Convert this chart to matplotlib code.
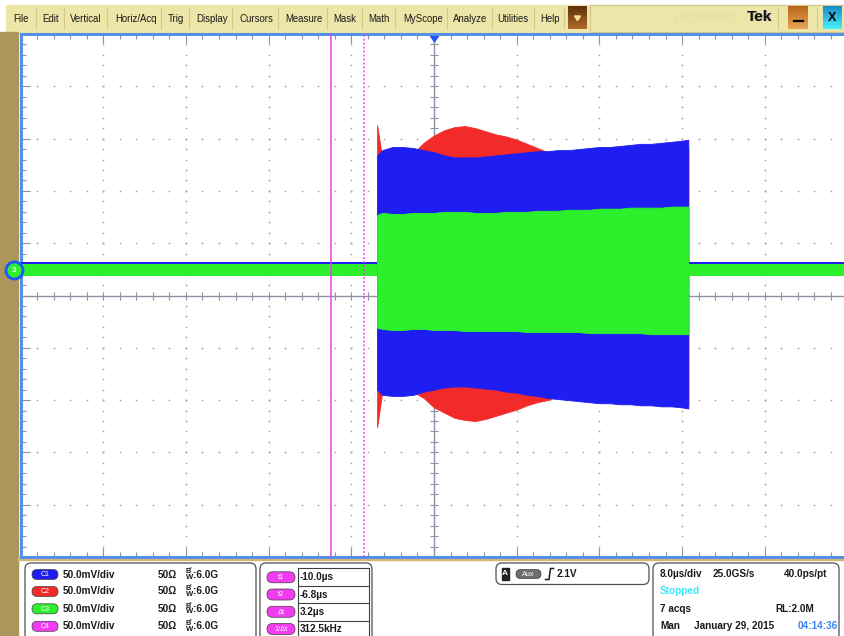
import numpy as np
import matplotlib
matplotlib.use("Agg")
import matplotlib.pyplot as plt
from matplotlib.patches import Rectangle, FancyBboxPatch, Polygon
from matplotlib.colors import LinearSegmentedColormap

plt.rcParams['font.family'] = ['Liberation Sans', 'DejaVu Sans']

# ---------------- acquisition settings ----------------
TIME_PER_DIV_US = 8.0
VOLTS_PER_DIV_MV = 50.0
N_HDIV = 10
N_VDIV = 10
CURSOR_T1_US = -10.0
CURSOR_T2_US = -6.8
SAMPLE_RATE_GSPS = 25.0
ACQ_COUNT = 7
TRIGGER_LEVEL_V = 2.1
CAPTURE_DATE = "January 29, 2015"
CAPTURE_TIME = "04:14:36"

channel_names = ["C1", "C2", "C3", "C4"]
channel_scale = ["50.0mV/div", "50.0mV/div", "50.0mV/div", "50.0mV/div"]
channel_term = ["50Ω", "50Ω", "50Ω", "50Ω"]
channel_bw = ["6.0G", "6.0G", "6.0G", "6.0G"]

menu_items = ["File", "Edit", "Vertical", "Horiz/Acq", "Trig", "Display", "Cursors",
              "Measure", "Mask", "Math", "MyScope", "Analyze", "Utilities", "Help"]

# ---------------- burst envelopes (mV) ----------------
burst_time_us = [-5.5, -5, -4, -3, -2, -1, 0, 1, 2, 3, 4, 5, 6, 7, 8, 9, 10, 11,
                 12, 13, 14, 15, 16, 17, 18, 19, 20, 21, 22, 23, 24, 24.6]
blue_top_mv = [134, 139, 142, 142, 141, 139, 137, 134, 132, 132, 132, 133, 134, 135, 136, 137,
               138, 138, 139, 139, 140, 141, 142, 142, 143, 144, 145, 145, 146, 147, 148, 149]
blue_bottom_mv = [-90, -95, -96, -96, -95, -92, -90, -88, -87, -87, -88, -89, -90, -92, -93, -95,
                  -96, -98, -99, -100, -101, -102, -103, -103, -104, -104, -105, -105, -106, -106, -107, -108]
red_top_mv = [163, 131, 134, 134, 136, 146, 153, 158, 161, 162, 160, 157, 154, 152, 149, 145,
              141, 137, 132, 131, 132, 133, 134, 134, 135, 136, 137, 137, 138, 139, 140, 141]
red_bottom_mv = [-126, -92, -93, -93, -92, -98, -107, -112, -117, -119, -120, -118, -115, -112, -109, -105,
                 -102, -100, -96, -97, -98, -99, -100, -100, -101, -101, -102, -102, -103, -103, -104, -105]
green_top_mv = [77, 79, 78, 78, 79, 79, 79, 80, 80, 80, 79, 79, 79, 80, 80, 80,
                81, 81, 81, 82, 82, 82, 83, 83, 83, 84, 84, 84, 84, 85, 85, 85]
green_bottom_mv = [-31, -32, -33, -33, -32, -32, -33, -33, -33, -34, -34, -34, -34, -34, -34, -35,
                   -35, -35, -35, -35, -35, -36, -36, -36, -36, -36, -36, -37, -37, -37, -37, -37]

# idle (no burst) levels, mV
green_idle_mv = [18.6, 30.1]
blue_idle_mv = [20.0, 32.0]

# ---------------- colours ----------------
BLUE = '#1E1EF2'
RED = '#F22A2A'
GREEN = '#2CF02C'
MAGENTA = '#F23CF2'
GRID = '#9AA2AC'
AXIS = '#8A94A2'
BORDER = '#5590EA'
MENU_BG = '#EEE6A8'
FRAME = '#AB975C'
GOLD = '#D6B672'
TEXT = '#1A1A1A'

W, H = 844, 636
fig = plt.figure(figsize=(W / 100, H / 100), dpi=100)
fig.patch.set_facecolor('white')

bg = fig.add_axes([0, 0, 1, 1], zorder=0)
bg.axis('off')


def grad(x0, y0, x1, y1, c_top, c_bot):
    cmap = LinearSegmentedColormap.from_list('g', [c_top, c_bot])
    bg.imshow(np.linspace(0, 1, 32).reshape(-1, 1), cmap=cmap, aspect='auto',
              extent=[x0, x1, y1, y0], zorder=3, interpolation='bilinear')


# menu bar
bg.add_patch(Rectangle((6, 5), W - 6, 27, color=MENU_BG, zorder=1))
bg.add_patch(Rectangle((590, 4.5), W - 590, 27, fill=False, ec='#CFC68A', lw=0.8, zorder=2))
menu_x = [13, 42, 70, 115, 168, 196, 239, 285, 333, 368, 403, 452.7, 497, 540.7]
sep_x = [35.7, 64, 107, 161, 189, 232, 278, 327, 362, 395, 446.7, 491.7, 534]
for lbl, x in zip(menu_items, menu_x):
    bg.text(x, 18.5, lbl, fontsize=6.9, color=TEXT, ha='left', va='center', zorder=4)
for x in sep_x:
    bg.plot([x, x], [8, 29], color='#D2C98E', lw=0.8, zorder=2)
for x in [564, 778, 817]:
    bg.plot([x, x], [8, 29], color='#D2C98E', lw=0.8, zorder=2)

# dropdown, minimise, close buttons
grad(568, 6, 587, 29, '#5E3210', '#B06A28')
bg.add_patch(Polygon([[574.5, 16], [580.5, 16], [577.5, 20.5]], color='#F4E3A0', zorder=4))
grad(788, 6, 808, 29, '#B8661C', '#E8A455')
bg.plot([793.5, 802.5], [21, 21], color='black', lw=1.6, zorder=4)
grad(823, 6, 842, 29, '#1B8CC8', '#48F0FA')
bg.text(832.5, 18, "X", fontsize=9, fontweight='bold', ha='center', va='center', zorder=4)
bg.text(706, 18, "DPO70604C", fontsize=8, color='#E6DE9F', ha='center', va='center', zorder=4)
bg.text(760, 17.3, "Tek", fontsize=11, fontweight='bold', color='#9A9A9A', ha='center', va='center', zorder=4)
bg.text(759.3, 16.7, "Tek", fontsize=11, fontweight='bold', color='#111111', ha='center', va='center', zorder=4)

# frame around the graticule
bg.add_patch(Rectangle((0, 32), 17.5, H - 32, color=FRAME, zorder=1))
bg.add_patch(Rectangle((17.5, 556.5), W, 3.2, color=GOLD, zorder=1))

# ---------------- readout panels ----------------
def box(x0, y0, x1, y1):
    bg.add_patch(FancyBboxPatch((x0, y0), x1 - x0, y1 - y0,
                                boxstyle="round,pad=0,rounding_size=6",
                                fc='white', ec='#505050', lw=0.9, zorder=2))


def pill(xc, yc, w, h, color, label, fs=5.0):
    bg.add_patch(FancyBboxPatch((xc - w / 2, yc - h / 2), w, h,
                                boxstyle=f"round,pad=0,rounding_size={h / 2}",
                                fc=color, ec='#404040', lw=0.5, zorder=3))
    bg.text(xc, yc + 0.3, label, fontsize=fs, color='white', ha='center', va='center', zorder=4)


box(25, 563, 256, 650)
box(260, 563, 372, 650)
box(496, 563, 649, 584.5)
box(653, 563, 839, 650)

row_y = [574.5, 591.5, 608.8, 626.3]
pill_colors = [BLUE, RED, GREEN, MAGENTA]
for i, y in enumerate(row_y):
    pill(45, y, 26, 10, pill_colors[i], channel_names[i])
    bg.text(63, y, channel_scale[i], fontsize=7.2, fontweight='bold', color=TEXT, ha='left', va='center', zorder=4)
    bg.text(158, y, channel_term[i], fontsize=7.2, fontweight='bold', color=TEXT, ha='left', va='center', zorder=4)
    bg.text(185, y - 2.8, "B", fontsize=5.2, fontweight='bold', color=TEXT, ha='left', va='center', zorder=4)
    bg.text(189.3, y - 4.5, "'", fontsize=5, fontweight='bold', color=TEXT, ha='left', va='center', zorder=4)
    bg.text(186, y + 2.8, "W", fontsize=5.5, fontweight='bold', color=TEXT, ha='left', va='center', zorder=4)
    bg.text(193, y, ":" + channel_bw[i], fontsize=7.2, fontweight='bold', color=TEXT, ha='left', va='center', zorder=4)

# cursor readouts
dt_us = CURSOR_T2_US - CURSOR_T1_US
cursor_labels = ["t1", "t2", "Δt", "1/Δt"]
cursor_values = [f"{CURSOR_T1_US:.1f}µs", f"{CURSOR_T2_US:.1f}µs", f"{dt_us:.1f}µs",
                 f"{1e3 / dt_us:.1f}kHz"]
cur_y = [577.3, 594.5, 611.8, 629]
for y in [568.3, 585.8, 603.2, 620.6]:
    bg.plot([297.5, 369], [y, y], color='#404040', lw=0.8, zorder=3)
for x in [297.5, 369]:
    bg.plot([x, x], [568.3, 640], color='#404040', lw=0.8, zorder=3)
for lbl, val, y in zip(cursor_labels, cursor_values, cur_y):
    pill(281, y, 28, 11, MAGENTA, lbl, fs=5.3)
    bg.text(300, y, val, fontsize=7.2, fontweight='bold', color=TEXT, ha='left', va='center', zorder=4)

# trigger readout
bg.add_patch(Rectangle((501.5, 567.5), 7, 12.5, color='#222222', zorder=3))
bg.text(505, 573.8, "A", fontsize=6, fontweight='bold', color='white', ha='center', va='center', zorder=4)
pill(528.5, 574, 25, 9, '#6E6E6E', "Aux", fs=5.2)
bg.plot([545.5, 549, 550.5, 553.5], [579.5, 579.5, 568.5, 568.5], color=TEXT, lw=1.1, zorder=4)
bg.text(556.5, 573.8, f"{TRIGGER_LEVEL_V:.1f}V", fontsize=7.2, fontweight='bold', color=TEXT,
        ha='left', va='center', zorder=4)

# horizontal / acquisition readout
record_len_m = TIME_PER_DIV_US * N_HDIV * SAMPLE_RATE_GSPS * 1e-3
bg.text(660, 574, f"{TIME_PER_DIV_US:.1f}µs/div", fontsize=7.2, fontweight='bold', color=TEXT, ha='left', va='center', zorder=4)
bg.text(713, 574, f"{SAMPLE_RATE_GSPS:.1f}GS/s", fontsize=7.2, fontweight='bold', color=TEXT, ha='left', va='center', zorder=4)
bg.text(783.5, 574, f"{1e3 / SAMPLE_RATE_GSPS:.1f}ps/pt", fontsize=7.2, fontweight='bold', color=TEXT, ha='left', va='center', zorder=4)
bg.text(660, 591.2, "Stopped", fontsize=7.2, fontweight='bold', color='#3EE6FA', ha='left', va='center', zorder=4)
bg.text(660, 608.6, f"{ACQ_COUNT} acqs", fontsize=7.2, fontweight='bold', color=TEXT, ha='left', va='center', zorder=4)
bg.text(775, 608.6, f"RL:{record_len_m:.1f}M", fontsize=7.2, fontweight='bold', color=TEXT, ha='left', va='center', zorder=4)
bg.text(660, 626.3, "Man", fontsize=7.2, fontweight='bold', color=TEXT, ha='left', va='center', zorder=4)
bg.text(694.5, 626.3, CAPTURE_DATE, fontsize=7.2, fontweight='bold', color=TEXT, ha='left', va='center', zorder=4)
bg.text(797.7, 626.3, CAPTURE_TIME, fontsize=7.2, fontweight='bold', color='#3A86F0', ha='left', va='center', zorder=4)

bg.set_xlim(0, W)
bg.set_ylim(H, 0)

# ---------------- graticule ----------------
px_l, px_r, px_t, px_b = 20.5, 847.5, 34.0, 557.0
ax = fig.add_axes([px_l / W, 1 - px_b / H, (px_r - px_l) / W, (px_b - px_t) / H], zorder=1)
ax.set_facecolor('white')
half_t = TIME_PER_DIV_US * N_HDIV / 2
half_v = VOLTS_PER_DIV_MV * N_VDIV / 2
ax.set_xlim(-half_t, half_t)
ax.set_ylim(-half_v, half_v)

minor_t = np.linspace(-half_t, half_t, N_HDIV * 5 + 1)
minor_v = np.linspace(-half_v, half_v, N_VDIV * 5 + 1)
major_t = np.linspace(-half_t, half_t, N_HDIV + 1)
major_v = np.linspace(-half_v, half_v, N_VDIV + 1)

for s in ['left', 'top', 'bottom']:
    ax.spines[s].set_color(BORDER)
    ax.spines[s].set_linewidth(2.2)
ax.spines['right'].set_visible(False)
ax.set_xticks(major_t)
ax.set_xticks(minor_t, minor=True)
ax.set_yticks(major_v)
ax.set_yticks(minor_v, minor=True)
ax.tick_params(which='both', direction='in', color=AXIS, width=0.8,
               top=True, bottom=True, left=True, right=False,
               labelbottom=False, labelleft=False)
ax.tick_params(which='major', length=6.2)
ax.tick_params(which='minor', length=3.6)

for xv in major_t[1:-1]:
    if np.isclose(xv, 0):
        continue
    ax.plot(np.full_like(minor_v, xv), minor_v, ls='none', marker='s', ms=1.1, mew=0, color=GRID, zorder=1)
for yv in major_v[1:-1]:
    if np.isclose(yv, 0):
        continue
    ax.plot(minor_t, np.full_like(minor_t, yv), ls='none', marker='s', ms=1.1, mew=0, color=GRID, zorder=1)

ax.axhline(0, color=AXIS, lw=1.0, zorder=1.5)
ax.axvline(0, color=AXIS, lw=1.0, zorder=1.5)
ax.plot(minor_t, np.zeros_like(minor_t), ls='none', marker='|', ms=5.5, mew=0.8, color=AXIS, zorder=1.5)
ax.plot(np.zeros_like(minor_v), minor_v, ls='none', marker='_', ms=5.5, mew=0.8, color=AXIS, zorder=1.5)

# ---------------- traces ----------------
t_start, t_end = burst_time_us[0], burst_time_us[-1]
ax.fill_between(burst_time_us, red_bottom_mv, red_top_mv, color=RED, lw=0.6, ec=RED, zorder=3)
ax.fill_between(burst_time_us, blue_bottom_mv, blue_top_mv, color=BLUE, lw=0.6, ec=BLUE, zorder=4)
ax.fill_between(burst_time_us, green_bottom_mv, green_top_mv, color=GREEN, lw=0.6, ec=GREEN, zorder=5)
for seg in ([-half_t, t_start], [t_end, half_t]):
    ax.fill_between(seg, [blue_idle_mv[0]] * 2, [blue_idle_mv[1]] * 2, color=BLUE, lw=0, zorder=4)
    ax.fill_between(seg, [green_idle_mv[0]] * 2, [green_idle_mv[1]] * 2, color=GREEN, lw=0, zorder=5)

# cursors
ax.axvline(CURSOR_T1_US, color=MAGENTA, lw=1.1, zorder=6)
ax.axvline(CURSOR_T2_US, color=MAGENTA, lw=1.1, ls=(0, (1.3, 1.3)), zorder=6)

# trigger position marker
px_per_mv = (px_b - px_t) / (2 * half_v)
ax.plot(0, half_v - 4.5 / px_per_mv, marker=[(-5, 3.5), (5, 3.5), (0, -3.5)], ms=7.2,
        color='#1E56FF', mew=0, clip_on=False, zorder=7)

# channel 3 ground marker
ch3_level = float(np.mean(green_idle_mv))
px_per_us = (px_r - px_l) / (2 * half_t)
mx = -half_t - 6.5 / px_per_us
ax.scatter([mx], [ch3_level], s=150, c=GREEN, edgecolors='#1E56FF', linewidths=2.0,
           clip_on=False, zorder=8)
ax.text(mx, ch3_level, "3", fontsize=6, fontweight='bold', color='white', ha='center',
        va='center', clip_on=False, zorder=9)

fig.savefig("out.png", dpi=100)
